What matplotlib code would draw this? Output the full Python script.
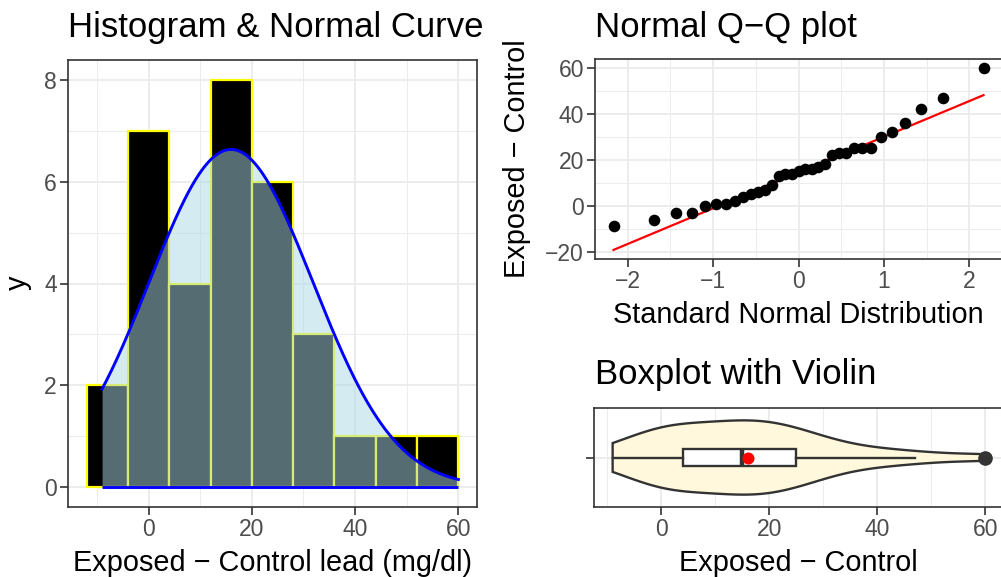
import numpy as np
import pandas as pd
import matplotlib
matplotlib.use("Agg")
import matplotlib.pyplot as plt
from matplotlib.ticker import FixedLocator
from statistics import NormalDist

# ---- data: exposed - control lead differences (mg/dl) ----
lead_diff = [22, 5, 23, -6, 18, 25, 13, 47, 15, 16, 6, 1, 2, 7, 0, 4, -9,
             -3, 36, 25, 1, 16, 42, 30, 25, 23, 32, 17, 9, -3, 60, 14, 14]
hist_breaks = [-12, -4, 4, 12, 20, 28, 36, 44, 52, 60]
hist_xticks = [0, 20, 40, 60]
hist_yticks = [0, 2, 4, 6, 8]
qq_xticks = [-2, -1, 0, 1, 2]
qq_yticks = [-20, 0, 20, 40, 60]
box_xticks = [0, 20, 40, 60]

titles = ["Histogram & Normal Curve", "Normal Q\u2212Q plot", "Boxplot with Violin"]

plt.rcParams['font.family'] = ['Liberation Sans', 'DejaVu Sans']

W, H = 1001, 577
fig = plt.figure(figsize=(W / 100, H / 100), dpi=100)

GRID = '#EBEBEB'
DARK = '#333333'
TICKC = '#4D4D4D'
TICK_FS = 16.5
AX_FS = 20.8
TITLE_FS = 25


def add_ax(l, t, r, b):
    return fig.add_axes([l / W, 1 - b / H, (r - l) / W, (b - t) / H])


def style(ax):
    for s in ax.spines.values():
        s.set_color(DARK)
        s.set_linewidth(1.2)
    ax.tick_params(which='major', length=5.5, width=1.2, color=DARK,
                   labelcolor=TICKC, labelsize=TICK_FS, pad=2.5)
    ax.tick_params(which='minor', length=0)
    ax.grid(True, which='major', color=GRID, linewidth=1.3)
    ax.grid(True, which='minor', color=GRID, linewidth=0.65)
    ax.set_axisbelow(True)


x = np.asarray(lead_diff, dtype=float)
n = len(x)
mu = x.mean()
sd = x.std(ddof=1)

# ---------------- Histogram ----------------
ax1 = add_ax(68, 60, 477, 507)
style(ax1)
cats = pd.cut(x, bins=hist_breaks, right=True, include_lowest=True)
counts = pd.Series(cats).value_counts(sort=False).sort_index().values
edges = np.array(hist_breaks, dtype=float)
bw = edges[1] - edges[0]
ax1.bar(edges[:-1], counts, width=np.diff(edges), align='edge', color='black',
        edgecolor='yellow', linewidth=1.6, zorder=2)
xs = np.linspace(x.min(), x.max(), 400)
dens = n * bw * np.exp(-0.5 * ((xs - mu) / sd) ** 2) / (sd * np.sqrt(2 * np.pi))
ax1.fill_between(xs, 0, dens, color='lightblue', alpha=0.5, linewidth=0, zorder=3)
ax1.plot(xs, dens, color='blue', linewidth=2.1, zorder=4)
ax1.plot([xs[0], xs[-1]], [0, 0], color='blue', linewidth=2.1, zorder=4, solid_capstyle='butt')
xr = edges[-1] - edges[0]
ax1.set_xlim(edges[0] - 0.05 * xr, edges[-1] + 0.05 * xr)
ymax = max(counts.max(), dens.max())
ax1.set_ylim(-0.05 * ymax, ymax * 1.05)
ax1.xaxis.set_major_locator(FixedLocator(hist_xticks))
ax1.xaxis.set_minor_locator(FixedLocator([-10, 10, 30, 50]))
ax1.yaxis.set_major_locator(FixedLocator(hist_yticks))
ax1.yaxis.set_minor_locator(FixedLocator([1, 3, 5, 7]))
fig.text(68 / W, 1 - 37 / H, titles[0], fontsize=TITLE_FS, va='baseline', ha='left')
fig.text((68 + 477) / 2 / W, 1 - 571 / H, "Exposed \u2212 Control lead (mg/dl)",
         fontsize=AX_FS, va='baseline', ha='center')
fig.text(18 / W, 1 - 283 / H, "y", fontsize=AX_FS, rotation=90, va='center', ha='center')

# ---------------- Q-Q plot ----------------
ax2 = add_ax(595, 59, 1002, 259)
style(ax2)
xs_sorted = np.sort(x)
p = (np.arange(1, n + 1) - 0.5) / n
nd = NormalDist()
theo = np.array([nd.inv_cdf(v) for v in p])
q1, q3 = np.percentile(x, [25, 75])
z1, z3 = nd.inv_cdf(0.25), nd.inv_cdf(0.75)
slope = (q3 - q1) / (z3 - z1)
intercept = q1 - slope * z1
ax2.scatter(theo, xs_sorted, s=70, color='black', zorder=3, linewidths=0)
line_y = intercept + slope * np.array([theo[0], theo[-1]])
ax2.plot([theo[0], theo[-1]], line_y, color='red', linewidth=1.6, zorder=2)
tr = theo[-1] - theo[0]
ax2.set_xlim(theo[0] - 0.05 * tr, theo[-1] + 0.05 * tr)
ylo = min(xs_sorted.min(), line_y.min())
yhi = max(xs_sorted.max(), line_y.max())
yr = yhi - ylo
ax2.set_ylim(ylo - 0.05 * yr, yhi + 0.05 * yr)
ax2.xaxis.set_major_locator(FixedLocator(qq_xticks))
ax2.xaxis.set_minor_locator(FixedLocator([-1.5, -0.5, 0.5, 1.5]))
ax2.yaxis.set_major_locator(FixedLocator(qq_yticks))
ax2.yaxis.set_minor_locator(FixedLocator([-10, 10, 30, 50]))
fig.text(595 / W, 1 - 37 / H, titles[1], fontsize=TITLE_FS, va='baseline', ha='left')
fig.text((595 + 1002) / 2 / W, 1 - 323 / H, "Standard Normal Distribution",
         fontsize=AX_FS, va='baseline', ha='center')
fig.text(517 / W, 1 - 159 / H, "Exposed \u2212 Control", fontsize=AX_FS, rotation=90,
         va='center', ha='center')

# ---------------- Boxplot with violin ----------------
ax3 = add_ax(594, 408, 1004, 507)
style(ax3)
sdv = x.std(ddof=1)
iqr = q3 - q1
bwk = 0.9 * min(sdv, iqr / 1.34) * n ** (-0.2)
grid = np.linspace(x.min(), x.max(), 512)
kde = np.exp(-0.5 * ((grid[:, None] - x[None, :]) / bwk) ** 2).sum(axis=1)
half = 0.45 * kde / kde.max()
vx = np.concatenate([grid, grid[::-1]])
vy = np.concatenate([1 + half, (1 - half)[::-1]])
ax3.fill(vx, vy, facecolor='cornsilk', edgecolor=DARK, linewidth=1.7, zorder=2)
ax3.boxplot([x], positions=[1], vert=False, widths=0.2, whis=1.5, showcaps=False,
            patch_artist=True, manage_ticks=False, zorder=3,
            boxprops=dict(facecolor='white', edgecolor=DARK, linewidth=1.7),
            whiskerprops=dict(color=DARK, linewidth=1.7),
            medianprops=dict(color=DARK, linewidth=3.2),
            flierprops=dict(marker='o', markerfacecolor=DARK, markeredgecolor=DARK,
                            markersize=9.5))
ax3.scatter([mu], [1], s=75, color='red', zorder=5, linewidths=0)
xr3 = x.max() - x.min()
ax3.set_xlim(x.min() - 0.05 * xr3, x.max() + 0.05 * xr3)
ax3.set_ylim(0.4, 1.6)
ax3.xaxis.set_major_locator(FixedLocator(box_xticks))
ax3.xaxis.set_minor_locator(FixedLocator([-10, 10, 30, 50]))
ax3.yaxis.set_major_locator(FixedLocator([1]))
ax3.set_yticklabels([""])
fig.text(595 / W, 1 - 384 / H, titles[2], fontsize=TITLE_FS, va='baseline', ha='left')
fig.text((594 + 1002) / 2 / W, 1 - 571 / H, "Exposed \u2212 Control",
         fontsize=AX_FS, va='baseline', ha='center')

fig.savefig("out.png", dpi=100)
